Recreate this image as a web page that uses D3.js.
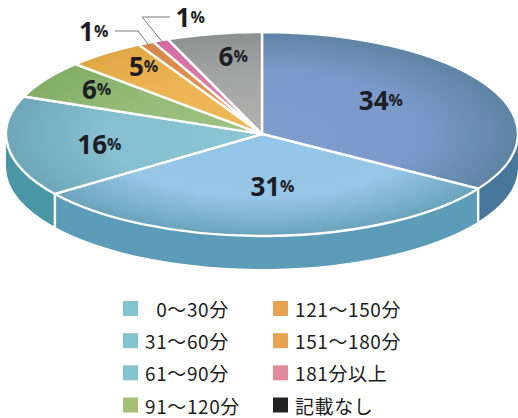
<!DOCTYPE html>
<html>
<head>
<meta charset="utf-8">
<script src="https://cdn.jsdelivr.net/npm/d3@7"></script>
<style>
  html, body { margin: 0; background: #fff; }
  svg { display: block; }
  text { font-family: "Noto Sans CJK JP", "Noto Sans", sans-serif; fill: #1c1c1c; }
  .pct { font-family: "Open Sans", "Noto Sans", sans-serif; font-weight: 700; fill: #1d1d24; }
</style>
</head>
<body>
<svg id="chart" width="518" height="418"></svg>
<script>
const categories = ["0〜30分", "31〜60分", "61〜90分", "91〜120分", "121〜150分", "151〜180分", "181分以上", "記載なし"];
const values = [34, 31, 16, 6, 5, 1, 1, 6];
const legendLabels = ["\u20070〜30分", "31〜60分", "61〜90分", "91〜120分", "121〜150分", "151〜180分", "181分以上", "記載なし"];
const legendColors = ["#85c2cf", "#85c2cf", "#85c2cf", "#a5c076", "#e6a352", "#e6a352", "#e08c9e", "#222222"];

// [rim, middle, centre] of each top face
const faceColors = [
  ["#5f83a3", "#7a9aca", "#7f9dcb"],
  ["#6aa3bb", "#97c6e6", "#94c5e8"],
  ["#6ea6b8", "#86c0d0", "#8ac6d2"],
  ["#84ad68", "#93bb76", "#a0c282"],
  ["#e0a745", "#ecb452", "#efb858"],
  ["#d6854a", "#dd8f50", "#e4a050"],
  ["#d56aa0", "#da78a8", "#e090b0"],
  ["#8e9090", "#a2a3a3", "#b2b2b0"]
];
const wallColors = ["#47789c", "#5c9cb8", "#4a97a6"];

const cx = 262, cy = 134, rx = 256, ry = 102, depth = 33;

const svg = d3.select("#chart");
const defs = svg.append("defs");

const pie = d3.pie().sort(null).value(d => d);
const arcs = pie(values);
const arc = d3.arc().innerRadius(0).outerRadius(rx);

// angle is clockwise from 12 o'clock, same as d3.pie
const rimPoint = (a, dy = 0) => [cx + rx * Math.sin(a), cy - ry * Math.cos(a) + dy];

faceColors.forEach((c, i) => {
  const g = defs.append("radialGradient")
    .attr("id", "face" + i)
    .attr("gradientUnits", "userSpaceOnUse")
    .attr("cx", 0).attr("cy", 0).attr("r", rx);
  g.append("stop").attr("offset", "0%").attr("stop-color", c[2]);
  g.append("stop").attr("offset", "62%").attr("stop-color", c[1]);
  g.append("stop").attr("offset", "100%").attr("stop-color", c[0]);
});

const soft = defs.append("filter").attr("id", "soft");
soft.append("feGaussianBlur").attr("stdDeviation", 0.4);

const pieLayer = svg.append("g").attr("filter", "url(#soft)");

// side walls, only the front half of the disc shows one
const front = arcs.map(d => ({
  a0: Math.max(d.startAngle, Math.PI / 2),
  a1: Math.min(d.endAngle, Math.PI * 1.5),
  index: d.index
})).filter(d => d.a1 > d.a0);

pieLayer.append("g")
  .selectAll("path")
  .data(front)
  .enter().append("path")
  .attr("fill", d => wallColors[d.index])
  .attr("d", d => {
    const p0 = rimPoint(d.a0), p1 = rimPoint(d.a1);
    const q0 = rimPoint(d.a0, depth), q1 = rimPoint(d.a1, depth);
    return `M${p0}A${rx},${ry} 0 0 1 ${p1}L${q1}A${rx},${ry} 0 0 0 ${q0}Z`;
  });

// white seams down the wall
pieLayer.append("g")
  .selectAll("line")
  .data(front.slice(1))
  .enter().append("line")
  .attr("x1", d => rimPoint(d.a0)[0])
  .attr("y1", d => rimPoint(d.a0)[1])
  .attr("x2", d => rimPoint(d.a0, depth)[0])
  .attr("y2", d => rimPoint(d.a0, depth)[1])
  .attr("stroke", "#fff")
  .attr("stroke-width", 2.4);

pieLayer.append("g")
  .attr("transform", `translate(${cx},${cy}) scale(1,${ry / rx})`)
  .selectAll("path")
  .data(arcs)
  .enter().append("path")
  .attr("d", arc)
  .attr("fill", (d, i) => `url(#face${i})`)
  .attr("stroke", "#fff")
  .attr("stroke-width", 2.4)
  .attr("stroke-linejoin", "round")
  .attr("vector-effect", "non-scaling-stroke");

// leader lines for the two 1% slices
const leaders = [
  { index: 5, elbow: [138, 31], end: [115, 31], reach: 0.97 },
  { index: 6, elbow: [142, 17], end: [170, 17], reach: 0.97 }
];
svg.append("g")
  .selectAll("path")
  .data(leaders)
  .enter().append("path")
  .attr("fill", "none")
  .attr("stroke", "#777")
  .attr("stroke-width", 1)
  .attr("d", d => {
    const a = (arcs[d.index].startAngle + arcs[d.index].endAngle) / 2;
    const t = [cx + rx * d.reach * Math.sin(a), cy - ry * d.reach * Math.cos(a)];
    return d3.line()([d.end, d.elbow, t]);
  });

// percent labels, placed as a fraction of the rim along each slice's mid angle
const labelFrac = [[0.53, 0.69], [1.3, 0.51], [0.64, 0.8], [0.765, 0.82], [0.755, 0.844], [1.448, 1.133], [0.706, 1.25], [0.6, 0.78]];
const numSize = 26, unitSize = 16;

const labels = svg.append("g")
  .selectAll("text")
  .data(arcs)
  .enter().append("text")
  .attr("class", "pct")
  .attr("text-anchor", "middle")
  .attr("dominant-baseline", "central")
  .attr("x", (d, i) => cx + rx * labelFrac[i][0] * Math.sin((d.startAngle + d.endAngle) / 2))
  .attr("y", (d, i) => cy - ry * labelFrac[i][1] * Math.cos((d.startAngle + d.endAngle) / 2));
labels.append("tspan").attr("font-size", numSize).text(d => d.value);
labels.append("tspan").attr("font-size", unitSize).text("%");

// legend, two columns of four
const legendX = d3.scalePoint().domain([0, 1]).range([123, 273]);
const legendY = d3.scalePoint().domain([0, 1, 2, 3]).range([308.5, 405]);

const legend = svg.append("g")
  .selectAll("g")
  .data(categories)
  .enter().append("g")
  .attr("transform", (d, i) => `translate(${legendX(Math.floor(i / 4))},${legendY(i % 4)})`);

legend.append("rect")
  .attr("y", -7.5)
  .attr("width", 15)
  .attr("height", 15)
  .attr("fill", (d, i) => legendColors[i]);

legend.append("text")
  .attr("x", 22)
  .attr("dominant-baseline", "central")
  .attr("font-size", 19)
  .attr("letter-spacing", 0.6)
  .style("white-space", "pre")
  .text((d, i) => legendLabels[i]);
</script>
</body>
</html>
